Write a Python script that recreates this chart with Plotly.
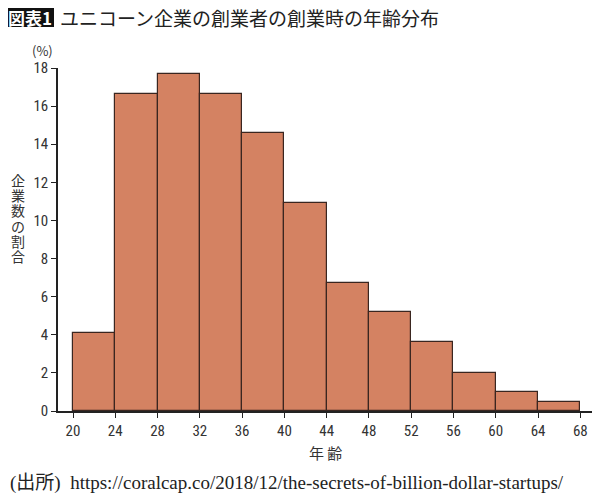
import plotly.graph_objects as go

# 年齢階級（4歳刻みの下限）と企業数の割合（%）
age_bin_start = [20, 24, 28, 32, 36, 40, 44, 48, 52, 56, 60, 64]
share_pct = [4.1, 16.65, 17.7, 16.65, 14.6, 10.9, 6.7, 5.2, 3.6, 2.0, 1.0, 0.45]
bin_width = 4
x_ticks = [20, 24, 28, 32, 36, 40, 44, 48, 52, 56, 60, 64, 68]
y_ticks = [0, 2, 4, 6, 8, 10, 12, 14, 16, 18]

JP = "Noto Sans CJK JP"
TICK = "Roboto Condensed, Roboto, Noto Sans"

# page body has an 8px margin, so the figure is 8px smaller each way
PL, PR, PT, PB = 58, 593, 68, 411


def px(x):
    return (x - PL) / (PR - PL)


def py(y):
    return (PB - y) / (PB - PT)


fig = go.Figure(go.Bar(
    x=age_bin_start,
    y=share_pct,
    width=[bin_width] * len(age_bin_start),
    offset=0,
    marker=dict(color="#D48262", line=dict(color="#3a2620", width=1.2)),
    hoverinfo="skip",
))

fig.update_layout(
    width=592, height=488,
    margin=dict(l=PL - 8, r=600 - PR, t=PT - 8, b=496 - PB),
    paper_bgcolor="white", plot_bgcolor="white",
    showlegend=False,
    bargap=0,
)

fig.update_xaxes(
    range=[18.58, 69.2],
    tickvals=x_ticks,
    ticks="outside", ticklen=5, tickwidth=1, tickcolor="#222",
    showline=True, linecolor="#222", linewidth=1.5,
    showgrid=False, zeroline=False,
    tickfont=dict(family=TICK, size=15, color="#333"),
)
fig.update_yaxes(
    range=[0, 18],
    tickvals=y_ticks,
    ticks="outside", ticklen=5, tickwidth=1, tickcolor="#222",
    showline=True, linecolor="#222", linewidth=1.5,
    showgrid=False, zeroline=False,
    tickfont=dict(family=TICK, size=15, color="#333"),
)


def label(text, x, y, size, xanchor="center", family=JP, color="#333"):
    fig.add_annotation(text=text, xref="paper", yref="paper",
                       x=px(x), y=py(y), xanchor=xanchor, yanchor="middle",
                       showarrow=False, borderpad=0,
                       font=dict(family=family, size=size, color=color))


# タイトル部分
fig.add_shape(type="rect", xref="paper", yref="paper",
              x0=px(6), x1=px(54), y0=py(27), y1=py(5),
              fillcolor="#111", line=dict(width=0))
label("<b>図表1</b>", 30, 17, 17, color="white")
label("ユニコーン企業の創業者の創業時の年齢分布", 59, 17, 19, xanchor="left", color="#222")

# 軸ラベル
label("(%)", 42, 50, 13)
for i, ch in enumerate("企業数の割合"):
    label(ch, 18, 180 + i * 15.2, 14)
label("年 齢", 325, 452, 15)
label("(出所)  https://coralcap.co/2018/12/the-secrets-of-billion-dollar-startups/",
      9, 483, 19, xanchor="left", family="Liberation Serif, Noto Sans CJK JP", color="#222")

fig.write_html("out.html")
